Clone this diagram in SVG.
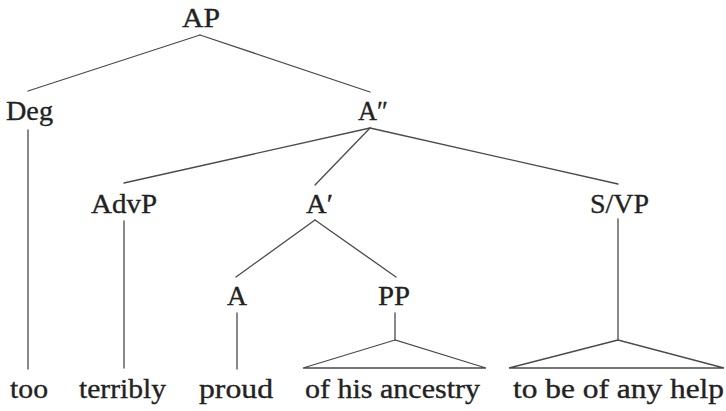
<svg xmlns="http://www.w3.org/2000/svg" width="726" height="411" viewBox="0 0 726 411">
  <style>
    text { font-family: "Liberation Serif", "Times New Roman", serif; font-size: 28px; fill: #222; stroke: #222; stroke-width: 0.35; text-anchor: middle; }
    .edges line, .edges polygon { stroke: #4a4a4a; stroke-width: 1.3; fill: none; stroke-linecap: round; stroke-linejoin: miter; }
  </style>
  <rect width="726" height="411" fill="#fff"/>

  <!-- branches of the tree -->
  <g class="edges" id="connectors">
    <line x1="200" y1="35" x2="28" y2="91"/>
    <line x1="200" y1="35" x2="370" y2="92"/>
    <line x1="28" y1="130" x2="28" y2="369"/>
    <line x1="370" y1="128" x2="124" y2="183"/>
    <line x1="370" y1="128" x2="315" y2="185"/>
    <line x1="370" y1="128" x2="618" y2="184"/>
    <line x1="124" y1="221" x2="124" y2="368"/>
    <line x1="315" y1="220" x2="236" y2="277"/>
    <line x1="315" y1="220" x2="396" y2="277"/>
    <line x1="237" y1="313" x2="237" y2="369"/>
    <line x1="395" y1="313" x2="395" y2="340"/>
    <polygon points="395,340 303,368 486,368"/>
    <line x1="618" y1="219" x2="618" y2="340"/>
    <polygon points="618,340 509,368 724,368"/>
  </g>

  <g id="AP"><text x="201" y="27" textLength="38" lengthAdjust="spacingAndGlyphs">AP</text></g>
  <g id="Deg"><text x="29.5" y="120" textLength="47" lengthAdjust="spacingAndGlyphs">Deg</text></g>
  <g id="A2"><text x="373" y="120" textLength="30" lengthAdjust="spacingAndGlyphs">A″</text></g>
  <g id="AdvP"><text x="124" y="213" textLength="66" lengthAdjust="spacingAndGlyphs">AdvP</text></g>
  <g id="A1"><text x="319.5" y="213" textLength="27" lengthAdjust="spacingAndGlyphs">A′</text></g>
  <g id="SVP"><text x="619.5" y="213" textLength="59" lengthAdjust="spacingAndGlyphs">S/VP</text></g>
  <g id="A"><text x="237" y="305" textLength="20" lengthAdjust="spacingAndGlyphs">A</text></g>
  <g id="PP"><text x="394" y="305" textLength="32" lengthAdjust="spacingAndGlyphs">PP</text></g>

  <g id="w-too"><text x="29" y="398" textLength="38" lengthAdjust="spacingAndGlyphs">too</text></g>
  <g id="w-terribly"><text x="122.5" y="398" textLength="87" lengthAdjust="spacingAndGlyphs">terribly</text></g>
  <g id="w-proud"><text x="236" y="398" textLength="74" lengthAdjust="spacingAndGlyphs">proud</text></g>
  <g id="w-ancestry"><text x="392.5" y="398" textLength="175" lengthAdjust="spacingAndGlyphs">of his ancestry</text></g>
  <g id="w-help"><text x="618.5" y="398" textLength="211" lengthAdjust="spacingAndGlyphs">to be of any help</text></g>
</svg>
